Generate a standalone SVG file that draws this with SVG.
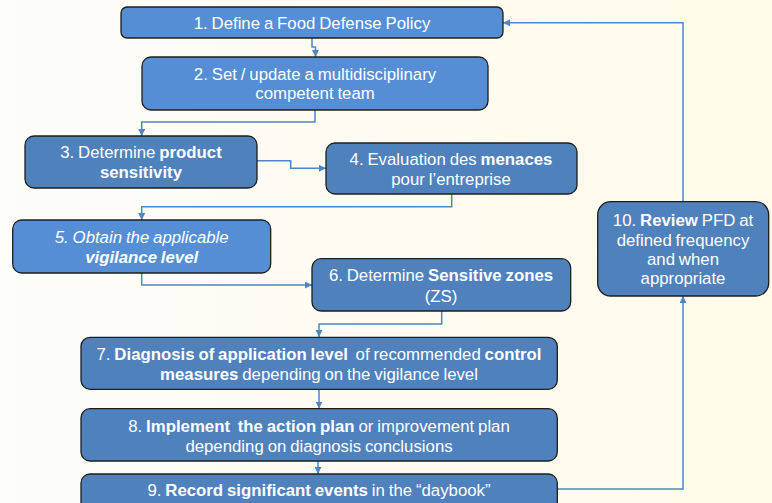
<svg xmlns="http://www.w3.org/2000/svg" width="772" height="503" viewBox="0 0 772 503">
<defs>
<linearGradient id="bg" x1="0" y1="0" x2="1" y2="0">
<stop offset="0" stop-color="#fdfdf9"/>
<stop offset="1" stop-color="#fffbea"/>
</linearGradient>
<marker id="ah" viewBox="0 0 8 8" refX="8" refY="4" markerWidth="7" markerHeight="7" markerUnits="userSpaceOnUse" orient="auto">
<path d="M0,0 L8,4 L0,8 z" fill="#4f85c5"/>
</marker>
</defs>
<style>
.lt{fill:#558ed5;stroke:#1e1e1e;stroke-width:1.3}
.dk{fill:#4f81bd;stroke:#1e1e1e;stroke-width:1.3}
text{font-family:"Liberation Sans",Arial,sans-serif;font-size:16.8px;fill:#ffffff;text-anchor:middle;word-spacing:-0.8px}
.pre{white-space:pre}
.b{font-weight:bold}
.i{font-style:italic}
.c{fill:none;stroke:#4f85c5;stroke-width:1.5;marker-end:url(#ah)}
</style>
<rect x="0" y="0" width="772" height="503" fill="url(#bg)"/>
<g id="connectors">
<path class="c" d="M312,38 V47 H315.5 V57"/>
<path class="c" d="M315,110 V122 H141.7 V136"/>
<path class="c" d="M257,160.7 H290.7 V168.3 H326"/>
<path class="c" d="M451.7,194 V206.7 H141.7 V220"/>
<path class="c" d="M141.7,273 V285 H312"/>
<path class="c" d="M441.7,311 V324 H319 V337"/>
<path class="c" d="M319,389 V408.5"/>
<path class="c" d="M318,461 V474"/>
<path class="c" d="M557,489 H683 V296"/>
<path class="c" d="M683,201.7 V22.7 H503"/>
</g>
<g id="n1">
<rect class="lt" x="121" y="7" width="382" height="31" rx="6"/>
<text x="312" y="28.5">1. Define a Food Defense Policy</text>
</g>
<g id="n2">
<rect class="lt" x="142" y="57" width="346" height="53" rx="9"/>
<text x="315" y="79.5">2. Set / update a multidisciplinary</text>
<text x="315" y="99">competent team</text>
</g>
<g id="n3">
<rect class="dk" x="25" y="136" width="232" height="52" rx="9"/>
<text x="141" y="158">3. Determine <tspan class="b">product</tspan></text>
<text x="141" y="178" class="b">sensitivity</text>
</g>
<g id="n4">
<rect class="dk" x="326" y="143" width="251" height="51" rx="9"/>
<text x="451" y="165">4. Evaluation des <tspan class="b">menaces</tspan></text>
<text x="451" y="184.5">pour l’entreprise</text>
</g>
<g id="n5">
<rect class="lt" x="12.7" y="220" width="258" height="53" rx="9"/>
<text x="141.7" y="242.5" class="i">5. Obtain the applicable</text>
<text x="141.7" y="262.5" class="i b">vigilance level</text>
</g>
<g id="n6">
<rect class="dk" x="312" y="258.7" width="258.7" height="52.3" rx="9"/>
<text x="441" y="281">6. Determine <tspan class="b">Sensitive zones</tspan></text>
<text x="441" y="301.5">(ZS)</text>
</g>
<g id="n7">
<rect class="dk" x="81" y="337.3" width="476.3" height="52" rx="9"/>
<text x="319" y="359.5" class="pre">7. <tspan class="b">Diagnosis of application level</tspan>  of recommended <tspan class="b">control</tspan></text>
<text x="319" y="379.5"><tspan class="b">measures</tspan> depending on the vigilance level</text>
</g>
<g id="n8">
<rect class="dk" x="81" y="408.7" width="476.3" height="52.3" rx="9"/>
<text x="319" y="431.5" class="pre">8. <tspan class="b">Implement  the action plan</tspan> or improvement plan</text>
<text x="319" y="451.5">depending on diagnosis conclusions</text>
</g>
<g id="n9">
<rect class="dk" x="81" y="474" width="476.3" height="50" rx="9"/>
<text x="319" y="495.5">9. <tspan class="b">Record significant events</tspan> in the “daybook”</text>
</g>
<g id="n10">
<rect class="dk" x="597.7" y="201.7" width="171" height="94.3" rx="13"/>
<text x="683" y="226">10. <tspan class="b">Review</tspan> PFD at</text>
<text x="683" y="245.5">defined frequency</text>
<text x="683" y="264.5">and when</text>
<text x="683" y="283.5">appropriate</text>
</g>
</svg>
